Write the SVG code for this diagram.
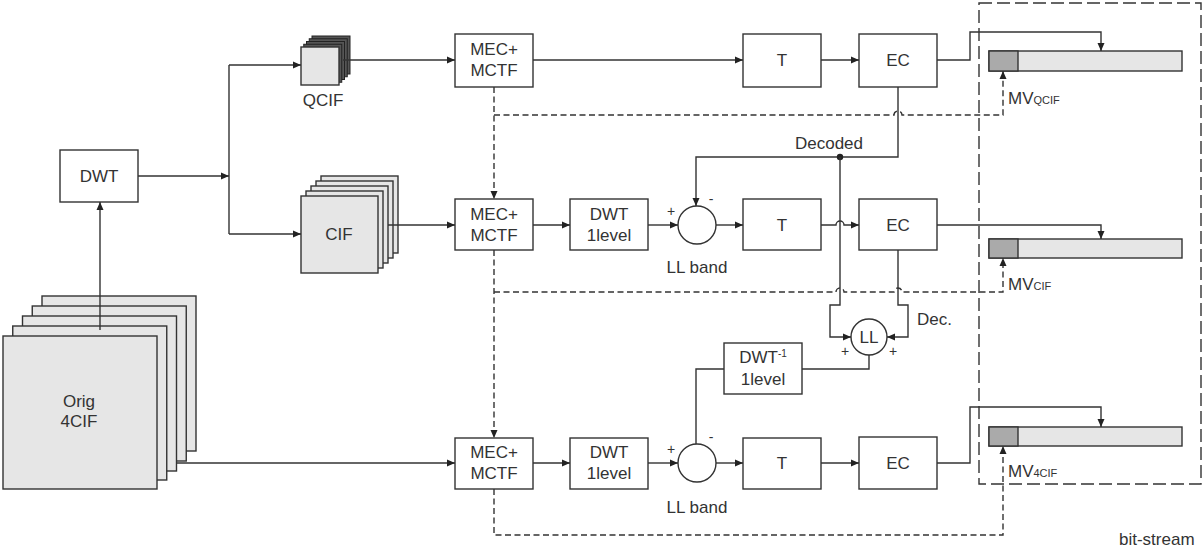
<svg xmlns="http://www.w3.org/2000/svg" width="1203" height="549" viewBox="0 0 1203 549">
<defs>
<marker id="arr" markerUnits="userSpaceOnUse" markerWidth="8" markerHeight="8" refX="8" refY="4" orient="auto">
<path d="M0,0.5 L8,4 L0,7.5 z" fill="#222"/>
</marker>
<style>
.box{fill:#fff;stroke:#333;stroke-width:1.4}
.frame{fill:#e6e6e6;stroke:#333;stroke-width:1.4}
.qf{fill:#555;stroke:#222;stroke-width:1}
.ln{fill:none;stroke:#333;stroke-width:1.4}
.ar{marker-end:url(#arr)}
.ds{fill:none;stroke:#333;stroke-width:1.4;stroke-dasharray:6,3.5}
.bs{fill:none;stroke:#333;stroke-width:1.4;stroke-dasharray:13,5}
text{font-family:"Liberation Sans",Arial,sans-serif;font-size:17px;fill:#333;text-anchor:middle}
.sm{font-size:14px}
.st{text-anchor:start}
</style>
</defs>
<rect width="1203" height="549" fill="#fff"/>

<g id="bitstream">
<rect class="bs" x="979" y="3" width="222" height="481"/>
<text class="st" x="1119" y="545">bit-stream</text>
</g>

<g id="orig">
<rect class="frame" x="42" y="296" width="154" height="155"/>
<rect class="frame" x="32.25" y="306" width="154" height="155"/>
<rect class="frame" x="22.5" y="316" width="154" height="155"/>
<rect class="frame" x="12.75" y="326" width="154" height="154"/>
<rect class="frame" x="3" y="336" width="154" height="153"/>
<text x="79" y="407">Orig</text>
<text x="79" y="427">4CIF</text>
</g>

<g id="dwt0">
<rect class="box" x="60" y="150" width="78" height="52"/>
<text x="99" y="182">DWT</text>
</g>

<g id="qcif">
<rect class="qf" x="312" y="36" width="38" height="38"/>
<rect class="qf" x="309.25" y="38.75" width="38" height="38"/>
<rect class="qf" x="306.5" y="41.5" width="38" height="38"/>
<rect class="qf" x="303.75" y="44.25" width="38" height="38"/>
<rect class="frame" x="301" y="47" width="38" height="38"/>
<text x="323" y="106">QCIF</text>
</g>

<g id="cif">
<rect class="frame" x="321" y="176" width="77" height="77"/>
<rect class="frame" x="316" y="181" width="77" height="77"/>
<rect class="frame" x="311" y="186" width="77" height="77"/>
<rect class="frame" x="306" y="191" width="77" height="77"/>
<rect class="frame" x="301" y="196" width="77" height="77"/>
<text x="339" y="240">CIF</text>
</g>

<g id="mec1">
<rect class="box" x="455" y="34" width="78" height="53"/>
<text x="494" y="55">MEC+</text>
<text x="494" y="76">MCTF</text>
</g>
<g id="t1">
<rect class="box" x="743" y="34" width="78" height="53"/>
<text x="782" y="66">T</text>
</g>
<g id="ec1">
<rect class="box" x="859" y="34" width="78" height="53"/>
<text x="898" y="66">EC</text>
</g>

<g id="mec2">
<rect class="box" x="455" y="199" width="78" height="51"/>
<text x="494" y="219.5">MEC+</text>
<text x="494" y="240.5">MCTF</text>
</g>
<g id="dwt2">
<rect class="box" x="570" y="199" width="78" height="51"/>
<text x="609" y="219.5">DWT</text>
<text x="609" y="240.5">1level</text>
</g>
<g id="sub2">
<circle class="box" cx="697" cy="225" r="19"/>
<text class="sm" x="671" y="216">+</text>
<text class="sm" x="711" y="204">-</text>
<text x="697" y="273">LL band</text>
</g>
<g id="t2">
<rect class="box" x="743" y="199" width="78" height="51"/>
<text x="782" y="231">T</text>
</g>
<g id="ec2">
<rect class="box" x="859" y="199" width="78" height="51"/>
<text x="898" y="231">EC</text>
</g>

<g id="ll">
<circle class="box" cx="869" cy="337" r="18"/>
<text x="869" y="343">LL</text>
<text class="sm" x="845" y="356">+</text>
<text class="sm" x="893" y="356">+</text>
<text class="st" x="917" y="325">Dec.</text>
</g>
<g id="idwt">
<rect class="box" x="724" y="343" width="78" height="51"/>
<text x="763" y="363"><tspan>DWT</tspan><tspan font-size="10" dy="-6">-1</tspan></text>
<text x="763" y="385">1level</text>
</g>

<g id="mec3">
<rect class="box" x="455" y="438" width="78" height="51"/>
<text x="494" y="458">MEC+</text>
<text x="494" y="479">MCTF</text>
</g>
<g id="dwt3">
<rect class="box" x="570" y="438" width="78" height="51"/>
<text x="609" y="458">DWT</text>
<text x="609" y="479">1level</text>
</g>
<g id="sub3">
<circle class="box" cx="697" cy="463" r="19"/>
<text class="sm" x="671" y="454">+</text>
<text class="sm" x="711" y="442">-</text>
<text x="697" y="513">LL band</text>
</g>
<g id="t3">
<rect class="box" x="743" y="438" width="78" height="51"/>
<text x="782" y="469">T</text>
</g>
<g id="ec3">
<rect class="box" x="859" y="437" width="78" height="52"/>
<text x="898" y="469">EC</text>
</g>

<g id="bar1">
<rect class="frame" x="989" y="51" width="193" height="20"/>
<rect x="989" y="51" width="29" height="20" fill="#aaa" stroke="#333" stroke-width="1.4"/>
<text class="st" x="1008" y="104">MV<tspan font-size="11">QCIF</tspan></text>
</g>
<g id="bar2">
<rect class="frame" x="989" y="239" width="193" height="19"/>
<rect x="989" y="239" width="29" height="19" fill="#aaa" stroke="#333" stroke-width="1.4"/>
<text class="st" x="1008" y="290">MV<tspan font-size="11">CIF</tspan></text>
</g>
<g id="bar3">
<rect class="frame" x="989" y="427" width="193" height="19"/>
<rect x="989" y="427" width="29" height="19" fill="#aaa" stroke="#333" stroke-width="1.4"/>
<text class="st" x="1008" y="477">MV<tspan font-size="11">4CIF</tspan></text>
</g>

<g id="connectors">
<path class="ln ar" d="M100,330 V202"/>
<path class="ln ar" d="M138,176 H229"/>
<path class="ln" d="M229,65 V234"/>
<path class="ln ar" d="M229,65 H301"/>
<path class="ln ar" d="M229,234 H301"/>
<path class="ln ar" d="M343,60 H455"/>
<path class="ln ar" d="M388,225 H455"/>
<path class="ln ar" d="M177,463 H455"/>
<path class="ln ar" d="M533,60 H743"/>
<path class="ln ar" d="M821,60 H859"/>
<path class="ln ar" d="M937,60 H970 V32 H1101 V51"/>
<path class="ln ar" d="M898,87 V157 H696 V206"/>
<circle cx="840" cy="157" r="3.2" fill="#222"/>
<text x="829" y="149">Decoded</text>
<path class="ln ar" d="M533,225 H570"/>
<path class="ln ar" d="M648,225 H678"/>
<path class="ln ar" d="M716,225 H743"/>
<path class="ln ar" d="M821,225 H836 A4,4 0 0 1 844,225 H859"/>
<path class="ln ar" d="M937,225 H1101 V239"/>
<path class="ln ar" d="M840,157 V305 H830 V337 H851"/>
<path class="ln ar" d="M898,250 V305 H908 V337 H887"/>
<path class="ln" d="M869,355 V369 H802"/>
<path class="ln" d="M724,369 H696 V444"/>
<path class="ln ar" d="M533,463 H570"/>
<path class="ln ar" d="M648,463 H678"/>
<path class="ln ar" d="M716,463 H743"/>
<path class="ln ar" d="M821,463 H859"/>
<path class="ln ar" d="M937,463 H970 V407 H1101 V427"/>
<path class="ds ar" d="M494,87 V199"/>
<path class="ds ar" d="M494,115 H894 A4,4 0 0 1 902,115 H1003 V71"/>
<path class="ds ar" d="M494,250 V438"/>
<path class="ds ar" d="M494,292 H836 A4,4 0 0 1 844,292 H894 A4,4 0 0 1 902,292 H1003 V258"/>
<path class="ds ar" d="M494,489 V535 H1003 V446"/>
</g>
</svg>
